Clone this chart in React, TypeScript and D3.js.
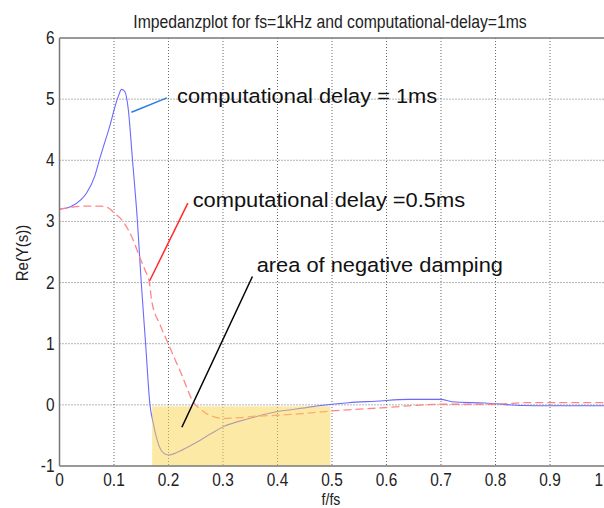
import React from "react";
import * as d3 from "d3";

const xTicks = [0, 0.1, 0.2, 0.3, 0.4, 0.5, 0.6, 0.7, 0.8, 0.9, 1];
const yTicks = [-1, 0, 1, 2, 3, 4, 5, 6];
const xTickLabels = ["0", "0.1", "0.2", "0.3", "0.4", "0.5", "0.6", "0.7", "0.8", "0.9", "1"];

const blueF = [0, 0.02, 0.04, 0.05, 0.065, 0.073, 0.085, 0.092, 0.1, 0.108, 0.114, 0.12, 0.126, 0.134, 0.143, 0.15, 0.158, 0.166, 0.172, 0.18, 0.19, 0.2, 0.22, 0.25, 0.28, 0.3, 0.35, 0.4, 0.45, 0.48, 0.5, 0.53, 0.58, 0.64, 0.7, 0.72, 0.78, 0.85, 0.9, 1];
const blueY = [3.2, 3.24, 3.36, 3.47, 3.75, 4.0, 4.35, 4.55, 4.82, 5.05, 5.16, 5.12, 4.85, 4.0, 3.0, 2.0, 1.0, 0.0, -0.3, -0.6, -0.78, -0.82, -0.76, -0.62, -0.46, -0.36, -0.22, -0.11, -0.05, -0.01, 0.01, 0.035, 0.06, 0.09, 0.09, 0.05, 0.03, -0.01, -0.015, -0.015];

const redF = [0, 0.02, 0.05, 0.075, 0.09, 0.1, 0.114, 0.125, 0.135, 0.147, 0.157, 0.165, 0.169, 0.185, 0.202, 0.213, 0.223, 0.235, 0.245, 0.257, 0.269, 0.285, 0.3, 0.33, 0.354, 0.4, 0.45, 0.5, 0.59, 0.7, 0.8, 0.85, 1];
const redY = [3.2, 3.23, 3.25, 3.25, 3.22, 3.14, 3.03, 2.88, 2.7, 2.42, 2.2, 2.0, 1.71, 1.3, 0.95, 0.72, 0.52, 0.25, 0.05, -0.06, -0.14, -0.2, -0.22, -0.21, -0.19, -0.17, -0.14, -0.1, -0.05, 0.01, 0.01, 0.035, 0.035];

const dampingArea = { f0: 0.17, f1: 0.497, y0: -1, y1: 0 };

const annotations = [
  { text: "computational delay = 1ms", tx: 0.2156, ty: 4.94, line: [[0.132, 4.785], [0.197, 5.02]], color: "#2a7de1" },
  { text: "computational delay =0.5ms", tx: 0.2444, ty: 3.236, line: [[0.1655, 2.03], [0.2355, 3.3]], color: "#ff2a2a" },
  { text: "area of negative damping", tx: 0.3618, ty: 2.173, line: [[0.2245, -0.367], [0.354, 2.1]], color: "#000000" },
];

const W = 604;
const H = 508;
const left = 59.5;
const right = 604.5;
const top = 38;
const bottom = 466;

export default function App() {
  const x = d3.scaleLinear().domain([0, 1]).range([left, right]);
  const y = d3.scaleLinear().domain([-1, 6]).range([bottom, top]);
  const lineGen = d3
    .line<[number, number]>()
    .x((d) => x(d[0]))
    .y((d) => y(d[1]))
    .curve(d3.curveMonotoneX);
  const blue = blueF.map((f, i) => [f, blueY[i]] as [number, number]);
  const red = redF.map((f, i) => [f, redY[i]] as [number, number]);
  const font = "'Liberation Sans', Arial, sans-serif";

  return (
    <svg width={W} height={H} style={{ position: "absolute", left: 0, top: 0, background: "#fff" }}>
      <rect x={0} y={0} width={W} height={H} fill="#fff" />
      {xTicks.filter((t) => t > 0 && t < 1).map((t) => (
        <line key={"gx" + t} x1={x(t)} x2={x(t)} y1={top} y2={bottom} stroke="#444" strokeWidth={0.8} strokeDasharray="1,2" />
      ))}
      {yTicks.filter((t) => t > -1 && t < 6).map((t) => (
        <line key={"gy" + t} x1={left} x2={right} y1={y(t)} y2={y(t)} stroke="#444" strokeWidth={0.8} strokeDasharray="1,2" />
      ))}
      <path d={lineGen(blue) || ""} fill="none" stroke="#6a6aff" strokeWidth={1.1} />
      <path d={lineGen(red) || ""} fill="none" stroke="#ff8585" strokeWidth={1.3} strokeDasharray="8,4" />
      <rect
        x={x(dampingArea.f0)}
        y={y(dampingArea.y1) + 1.5}
        width={x(dampingArea.f1) - x(dampingArea.f0)}
        height={y(dampingArea.y0) - y(dampingArea.y1) - 1.5}
        fill="#fcd34d"
        opacity={0.5}
      />
      <line x1={left} x2={left} y1={top} y2={bottom} stroke="#777" strokeWidth={1.5} />
      <line x1={left} x2={right} y1={bottom} y2={bottom} stroke="#777" strokeWidth={1.5} />
      <line x1={left} x2={right} y1={top} y2={top} stroke="#777" strokeWidth={1.5} />
      {xTicks.map((t, i) => (
        <text
          key={"xt" + t}
          transform={`translate(${t === 1 ? 603 : x(t)},486) scale(0.88,1)`}
          textAnchor={t === 1 ? "end" : "middle"}
          fontFamily={font}
          fontSize={17.5}
          fill="#222"
        >
          {xTickLabels[i]}
        </text>
      ))}
      {yTicks.map((t) => (
        <text
          key={"yt" + t}
          transform={`translate(54.5,${y(t) + 6}) scale(0.88,1)`}
          textAnchor="end"
          fontFamily={font}
          fontSize={17.5}
          fill="#222"
        >
          {t}
        </text>
      ))}
      <text transform="translate(330,28) scale(0.9,1)" textAnchor="middle" fontFamily={font} fontSize={17.5} fill="#222">
        Impedanzplot for fs=1kHz and computational-delay=1ms
      </text>
      <text transform="translate(331,505) scale(0.88,1)" textAnchor="middle" fontFamily={font} fontSize={16} fill="#222">
        f/fs
      </text>
      <text transform={`translate(28,253) rotate(-90) scale(0.88,1)`} textAnchor="middle" fontFamily={font} fontSize={17} fill="#222">
        Re(Y(s))
      </text>
      {annotations.map((a) => (
        <g key={a.text}>
          <line x1={x(a.line[0][0])} y1={y(a.line[0][1])} x2={x(a.line[1][0])} y2={y(a.line[1][1])} stroke={a.color} strokeWidth={1.5} />
          <text
            transform={`translate(${x(a.tx)},${y(a.ty)}) scale(1.12,1)`}
            fontFamily={font}
            fontSize={19.5}
            fill="#111"
          >
            {a.text}
          </text>
        </g>
      ))}
    </svg>
  );
}
